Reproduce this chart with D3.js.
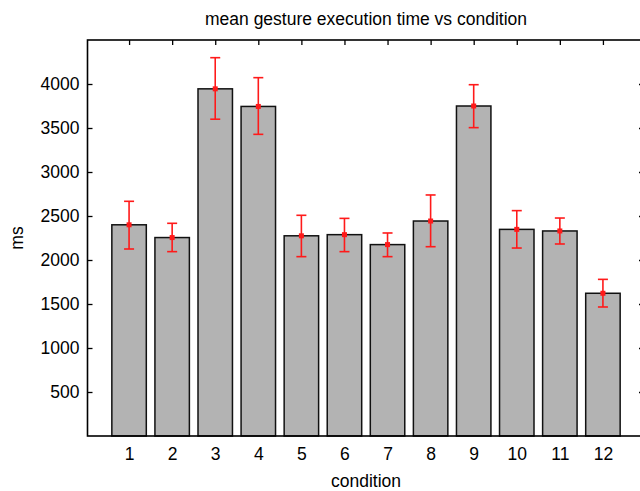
<!DOCTYPE html>
<html>
<head>
<meta charset="utf-8">
<script src="https://cdn.jsdelivr.net/npm/d3@7"></script>
<style>
  html, body { margin: 0; background: #fff; overflow: hidden; }
  svg { display: block; }
  text { font-family: "Liberation Sans", Arial, sans-serif; fill: #000; }
</style>
</head>
<body>
<div id="chart"></div>
<script>
var conditions = [1, 2, 3, 4, 5, 6, 7, 8, 9, 10, 11, 12];
var meanTimes = [2400, 2255, 3945, 3745, 2275, 2288, 2175, 2443, 3750, 2348, 2330, 1622];
var errLow  = [2125, 2095, 3600, 3428, 2038, 2095, 2038, 2151, 3504, 2136, 2182, 1466];
var errHigh = [2667, 2417, 4299, 4072, 2508, 2473, 2307, 2739, 3992, 2561, 2477, 1780];
var yTicks = [500, 1000, 1500, 2000, 2500, 3000, 3500, 4000];

function init(){
    var w = 640;
    var h = 491;

    var xScale = d3.scaleLinear()
      .domain([0, 13])
      .range([86, 646]);

    var yScale = d3.scaleLinear()
      .domain([0, 4500])
      .range([436, 40]);

    var barW = (xScale(1) - xScale(0)) * 0.8;

    var svg = d3.select("#chart")
      .append("svg")
      .attr("width", w)
      .attr("height", h);

    // bars
    svg.selectAll("rect.bar")
      .data(meanTimes)
      .enter()
      .append("rect")
      .attr("class", "bar")
      .attr("x", function(d, i){ return xScale(conditions[i]) - barW/2; })
      .attr("y", function(d){ return yScale(d); })
      .attr("width", barW)
      .attr("height", function(d){ return yScale(0) - yScale(d); })
      .attr("fill", "#b3b3b3")
      .attr("stroke", "#111")
      .attr("stroke-width", 1.5);

    // frame
    svg.append("rect")
      .attr("x", xScale(0) + 1.5)
      .attr("y", yScale(4500))
      .attr("width", xScale(13) - xScale(0))
      .attr("height", yScale(0) - yScale(4500))
      .attr("fill", "none")
      .attr("stroke", "#000")
      .attr("stroke-width", 1.6);

    // y axis, ticks inward, mirrored on right
    var yAxis = d3.axisLeft(yScale).tickValues(yTicks).tickSize(-5).tickFormat(d3.format("d"));
    var gy = svg.append("g")
      .attr("transform", "translate(" + (xScale(0) + 1.5) + ",0)")
      .call(yAxis);
    gy.select(".domain").remove();
    gy.selectAll("line").attr("stroke", "#000").attr("stroke-width", 1.3);
    gy.selectAll("text")
      .style("font-size", "17.5px")
      .attr("x", -8);

    var gyr = svg.append("g")
      .attr("transform", "translate(" + (xScale(13) - 1) + ",0)")
      .call(d3.axisRight(yScale).tickValues(yTicks).tickSize(-6).tickFormat(""));
    gyr.select(".domain").remove();
    gyr.selectAll("line").attr("stroke", "#000").attr("stroke-width", 1.3);

    // x axis labels, ticks mirrored on top
    var gx = svg.append("g")
      .attr("transform", "translate(0," + yScale(0) + ")")
      .call(d3.axisBottom(xScale).tickValues(conditions).tickSize(0).tickPadding(12));
    gx.select(".domain").remove();
    gx.selectAll("text").style("font-size", "17.5px");

    var gxt = svg.append("g")
      .attr("transform", "translate(0," + yScale(4500) + ")")
      .call(d3.axisTop(xScale).tickValues(conditions).tickSize(-5).tickFormat(""));
    gxt.select(".domain").remove();
    gxt.selectAll("line").attr("stroke", "#000").attr("stroke-width", 1.3);

    // error bars
    var eg = svg.append("g").attr("stroke", "#ff1a1a").attr("stroke-width", 1.6);
    conditions.forEach(function(c, i){
      var cx = xScale(c);
      eg.append("line")
        .attr("x1", cx).attr("x2", cx)
        .attr("y1", yScale(errLow[i])).attr("y2", yScale(errHigh[i]));
      eg.append("line")
        .attr("x1", cx - 5).attr("x2", cx + 5)
        .attr("y1", yScale(errLow[i])).attr("y2", yScale(errLow[i]));
      eg.append("line")
        .attr("x1", cx - 5).attr("x2", cx + 5)
        .attr("y1", yScale(errHigh[i])).attr("y2", yScale(errHigh[i]));
      eg.append("rect")
        .attr("x", cx - 2.5).attr("y", yScale(meanTimes[i]) - 2.5)
        .attr("width", 5).attr("height", 5)
        .attr("fill", "#ff1a1a").attr("stroke", "none");
    });

    // titles
    var midX = (xScale(0) + xScale(13)) / 2;
    svg.append("text")
      .attr("x", midX).attr("y", 25)
      .attr("text-anchor", "middle")
      .style("font-size", "17.5px")
      .text("mean gesture execution time vs condition");

    svg.append("text")
      .attr("x", midX).attr("y", 487)
      .attr("text-anchor", "middle")
      .style("font-size", "17.5px")
      .text("condition");

    svg.append("text")
      .attr("transform", "translate(23," + ((yScale(0) + yScale(4500)) / 2) + ") rotate(-90)")
      .attr("text-anchor", "middle")
      .style("font-size", "17.5px")
      .text("ms");
}

window.onload = init;
</script>
</body>
</html>
